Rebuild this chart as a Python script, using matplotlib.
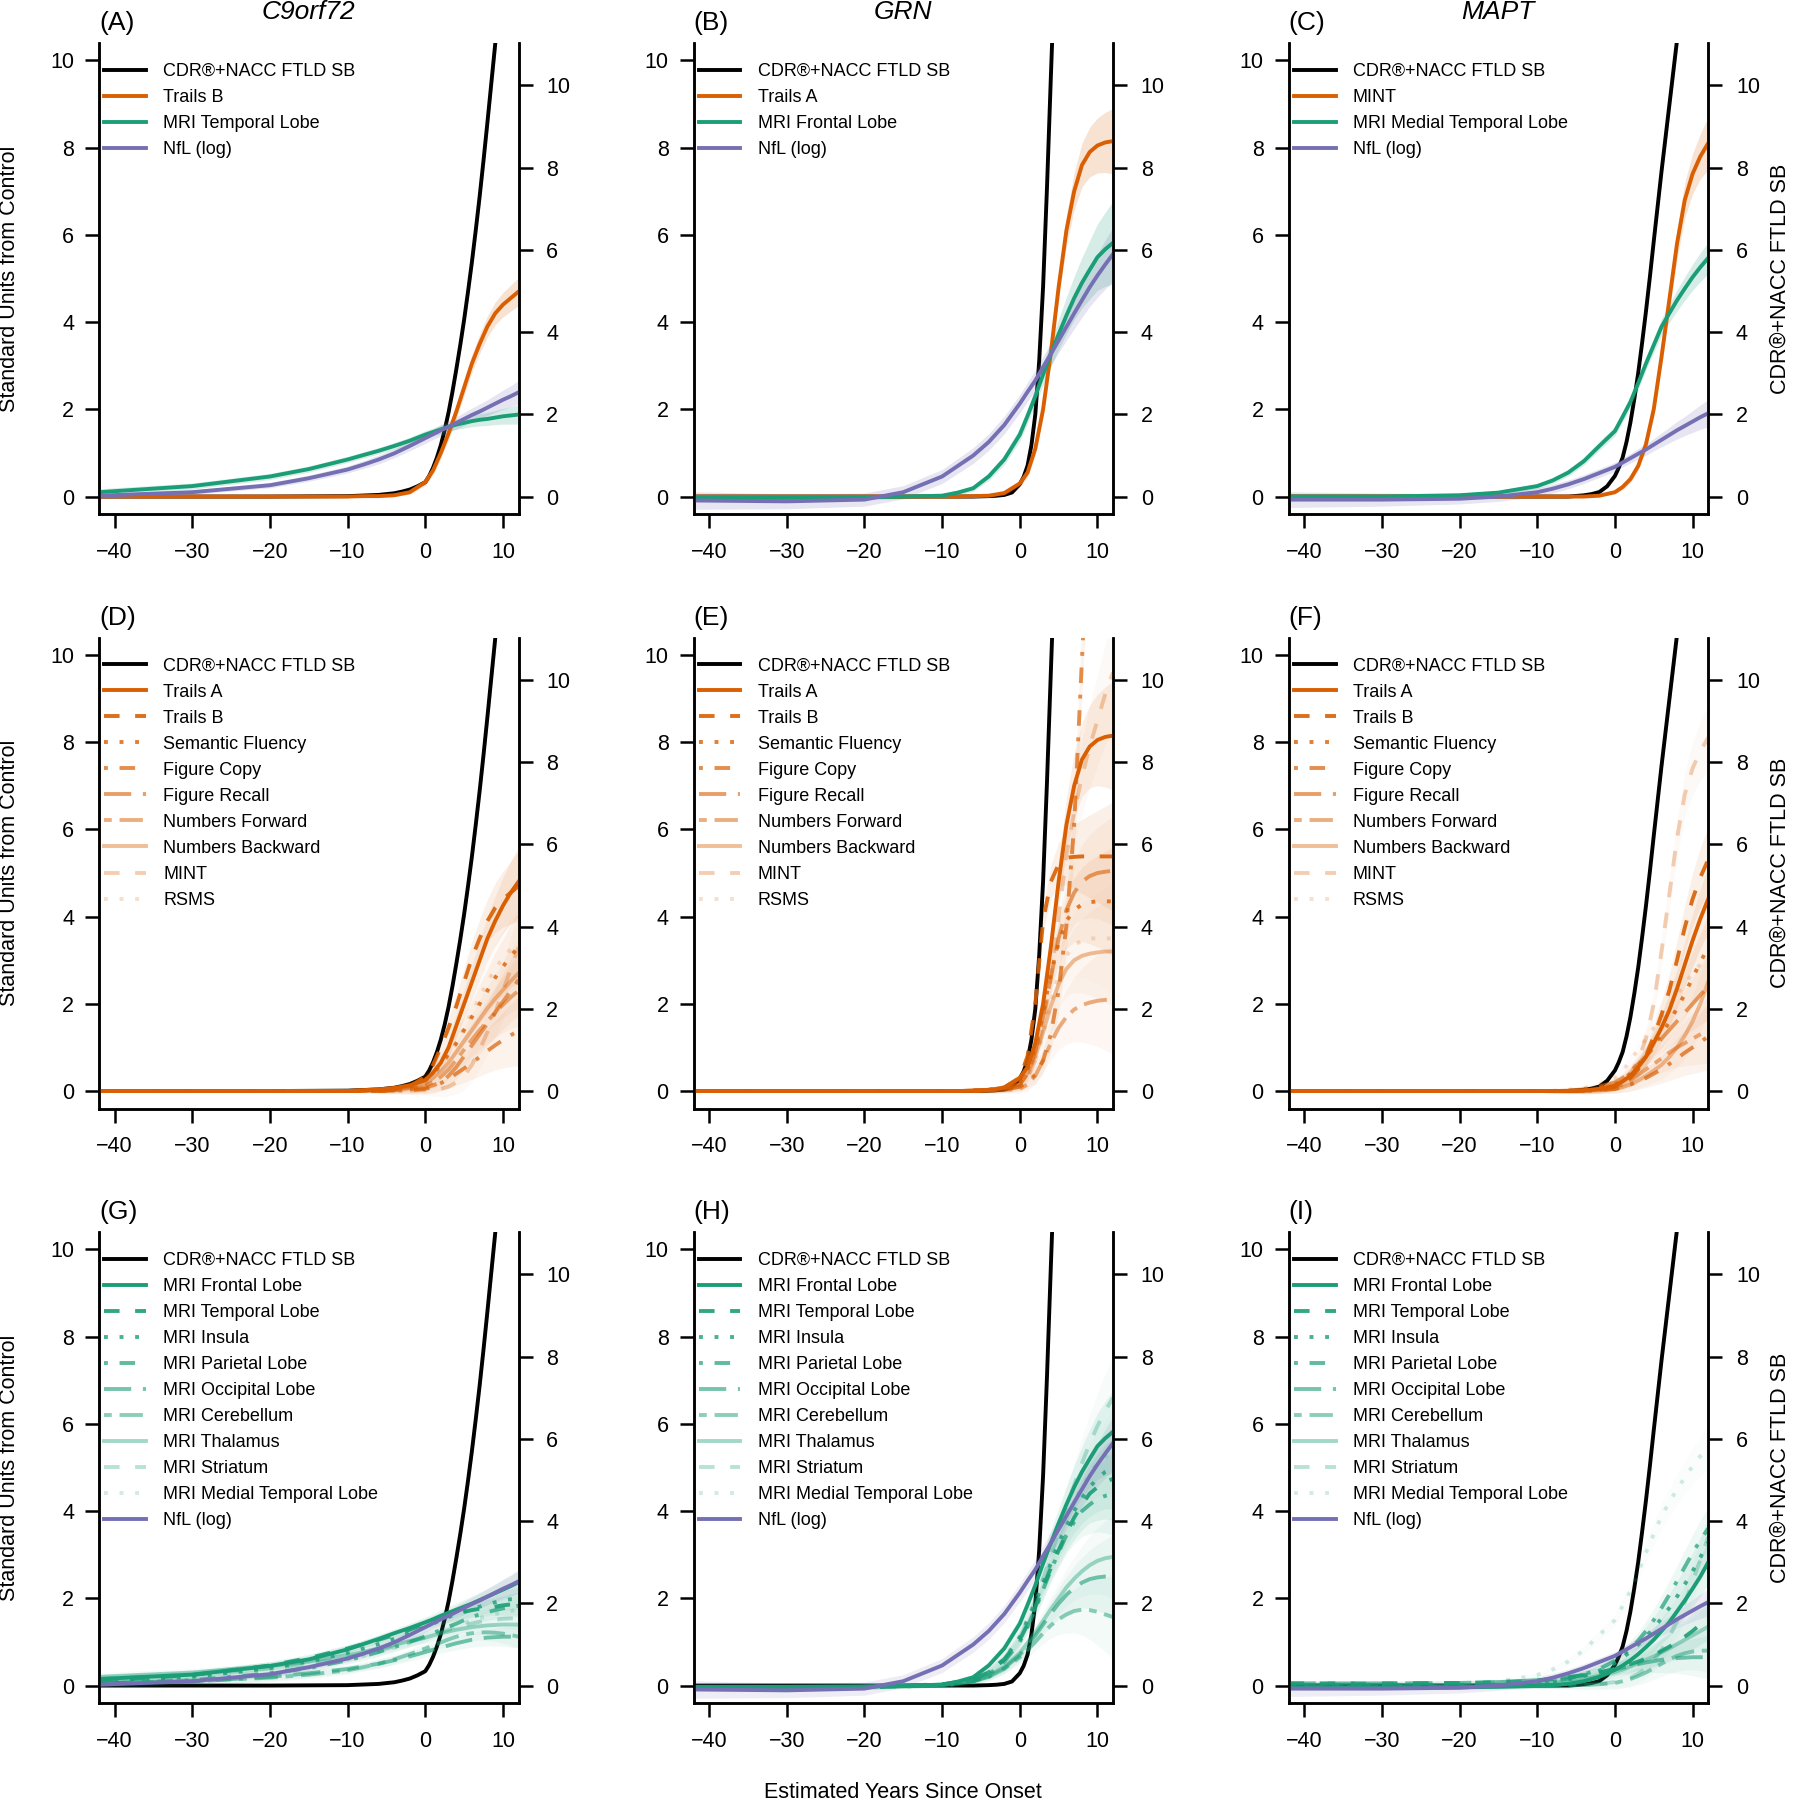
import matplotlib.pyplot as plt
import numpy as np

plt.rcParams['font.family'] = ['Liberation Sans', 'DejaVu Sans']

nan = float('nan')
years = [-42, -30, -20, -15, -10, -8, -6, -4, -2, 0, 1, 2, 3, 4, 5, 6, 7, 8, 9, 10, 11, 12]
cdr_years = [-42, -20, -10, -6, -4, -3, -2, -1, 0, 0.5, 1, 1.5, 2, 2.5, 3, 3.5, 4, 4.5, 5, 5.5,
             6, 6.5, 7, 7.5, 8, 8.5, 9, 9.5, 10, 11, 12]

# CDR+NACC FTLD SB, right axis units
cdr_c9 = [0, 0, 0.01, 0.04, 0.08, 0.12, 0.17, 0.25, 0.35, 0.5, 0.7, 0.95, 1.25, 1.62, 2.05, 2.55,
          3.1, 3.68, 4.3, 4.98, 5.7, 6.48, 7.3, 8.18, 9.1, 10.05, 11.0, 11.95, 12.9, nan, nan]
cdr_grn = [0, 0, 0, 0, 0.01, 0.02, 0.04, 0.1, 0.3, 0.48, 0.75, 1.25, 2.0, 3.3, 5.1, 7.5,
           10.2, 12.8, nan, nan, nan, nan, nan, nan, nan, nan, nan, nan, nan, nan, nan]
cdr_mapt = [0, 0, 0, 0, 0.03, 0.06, 0.11, 0.25, 0.5, 0.7, 0.95, 1.33, 1.8, 2.37, 3.0, 3.73,
            4.5, 5.33, 6.2, 7.05, 7.9, 8.7, 9.5, 10.3, 11.1, 11.9, nan, nan, nan, nan, nan]
ci_cdr = [0, 0, 0.01, 0.01, 0.02, 0.02, 0.03, 0.04, 0.05, 0.06, 0.07, 0.08, 0.09, 0.1, 0.12, 0.13,
          0.15, 0.17, 0.18, 0.2, 0.21, 0.23, 0.25, 0.27, 0.29, 0.31, 0.33, 0.35, 0.37, 0.4, 0.4]

# NfL (log)
nfl_c9 = [0.02, 0.1, 0.26, 0.42, 0.62, 0.73, 0.85, 0.99, 1.16, 1.34, 1.43, 1.52, 1.6, 1.69, 1.78, 1.87, 1.95, 2.04, 2.13, 2.22, 2.3, 2.39]
ci_nfl_c9 = [0.05, 0.05, 0.06, 0.07, 0.08, 0.09, 0.1, 0.1, 0.11, 0.12, 0.12, 0.13, 0.13, 0.14, 0.15, 0.16, 0.17, 0.18, 0.2, 0.22, 0.24, 0.27]
nfl_grn = [-0.09, -0.11, -0.07, 0.1, 0.46, 0.7, 0.94, 1.25, 1.64, 2.13, 2.4, 2.66, 2.97, 3.27, 3.58, 3.89, 4.2, 4.5, 4.8, 5.07, 5.32, 5.56]
ci_nfl_grn = [0.2, 0.17, 0.15, 0.15, 0.16, 0.17, 0.18, 0.19, 0.2, 0.21, 0.22, 0.23, 0.24, 0.26, 0.28, 0.31, 0.35, 0.39, 0.44, 0.5, 0.56, 0.62]
nfl_mapt = [-0.07, -0.07, -0.05, 0.0, 0.1, 0.18, 0.28, 0.4, 0.54, 0.68, 0.78, 0.88, 0.98, 1.08, 1.19, 1.3, 1.41, 1.52, 1.62, 1.72, 1.82, 1.91]
ci_nfl_mapt = [0.18, 0.15, 0.12, 0.11, 0.1, 0.1, 0.1, 0.1, 0.1, 0.1, 0.1, 0.11, 0.12, 0.13, 0.14, 0.16, 0.18, 0.2, 0.22, 0.25, 0.28, 0.31]

# cognitive, C9orf72
trailsa_c9 = [0, 0, 0, 0, 0, 0.02, 0.04, 0.07, 0.13, 0.25, 0.42, 0.65, 1.0, 1.5, 2.0, 2.5, 3.0, 3.5, 3.9, 4.25, 4.55, 4.8]
trailsb_c9 = [0, 0, 0, 0, 0, 0.01, 0.01, 0.03, 0.1, 0.33, 0.6, 1.0, 1.45, 1.95, 2.5, 3.05, 3.5, 3.9, 4.2, 4.4, 4.55, 4.7]
ci_trailsb_c9 = [0, 0, 0, 0, 0.01, 0.01, 0.02, 0.03, 0.05, 0.08, 0.1, 0.12, 0.14, 0.16, 0.18, 0.2, 0.22, 0.24, 0.26, 0.28, 0.3, 0.32]
semflu_c9 = [0, 0, 0, 0, 0, 0.01, 0.02, 0.05, 0.12, 0.25, 0.4, 0.6, 0.85, 1.1, 1.4, 1.7, 2.0, 2.3, 2.6, 2.85, 3.1, 3.3]
figcopy_c9 = [0, 0, 0, 0, 0, 0, 0, 0.01, 0.02, 0.05, 0.1, 0.18, 0.28, 0.4, 0.52, 0.65, 0.78, 0.92, 1.05, 1.17, 1.28, 1.38]
figrecall_c9 = [0, 0, 0, 0, 0, 0, 0.01, 0.02, 0.04, 0.08, 0.13, 0.2, 0.35, 0.55, 0.8, 1.05, 1.3, 1.55, 1.8, 2.05, 2.3, 2.55]
numfwd_c9 = [0, 0, 0, 0, 0, 0.01, 0.02, 0.04, 0.07, 0.12, 0.2, 0.33, 0.5, 0.72, 0.95, 1.18, 1.4, 1.6, 1.8, 1.98, 2.15, 2.3]
numbwd_c9 = [0, 0, 0, 0, 0, 0.01, 0.02, 0.05, 0.1, 0.18, 0.3, 0.45, 0.65, 0.9, 1.15, 1.4, 1.65, 1.9, 2.12, 2.32, 2.52, 2.7]
mint_c9 = [0, 0, 0, 0, 0, 0, 0, 0, 0.01, 0.02, 0.03, 0.05, 0.1, 0.2, 0.35, 0.6, 0.95, 1.35, 1.8, 2.3, 2.8, 3.3]
rsms_c9 = [0, 0, 0, 0, 0, 0.01, 0.02, 0.05, 0.1, 0.2, 0.35, 0.55, 0.8, 1.1, 1.45, 1.8, 2.15, 2.5, 2.8, 3.05, 3.25, 3.4]
ci_cog_c9 = [0.02, 0.02, 0.02, 0.02, 0.03, 0.04, 0.05, 0.07, 0.09, 0.12, 0.15, 0.18, 0.22, 0.27, 0.32, 0.38, 0.44, 0.5, 0.57, 0.64, 0.72, 0.8]

# cognitive, GRN
trailsa_grn = [0, 0, 0, 0, 0, 0, 0.01, 0.02, 0.08, 0.3, 0.55, 1.1, 2.0, 3.3, 4.8, 6.1, 7.0, 7.6, 7.9, 8.05, 8.12, 8.15]
ci_trailsa_grn = [0, 0, 0, 0, 0, 0.01, 0.02, 0.03, 0.05, 0.08, 0.1, 0.13, 0.17, 0.22, 0.28, 0.35, 0.42, 0.5, 0.57, 0.63, 0.69, 0.75]
trailsb_grn = [0, 0, 0, 0, 0, 0, 0.01, 0.02, 0.08, 0.3, 0.8, 2.0, 3.9, 4.8, 5.2, 5.35, 5.37, 5.38, 5.38, 5.38, 5.38, 5.38]
semflu_grn = [0, 0, 0, 0, 0, 0, 0.01, 0.03, 0.08, 0.2, 0.5, 1.0, 1.8, 2.7, 3.4, 3.9, 4.15, 4.28, 4.33, 4.35, 4.35, 4.35]
figcopy_grn = [0, 0, 0, 0, 0, 0, 0, 0.01, 0.03, 0.1, 0.2, 0.38, 0.7, 1.3, 2.3, 3.8, 6.1, 9.9, 13.5, nan, nan, nan]
figrecall_grn = [0, 0, 0, 0, 0, 0, 0.01, 0.03, 0.07, 0.15, 0.4, 0.9, 1.7, 2.6, 3.5, 4.15, 4.55, 4.8, 4.93, 5.0, 5.03, 5.05]
numfwd_grn = [0, 0, 0, 0, 0, 0, 0, 0.01, 0.02, 0.05, 0.15, 0.35, 0.7, 1.1, 1.45, 1.7, 1.87, 1.97, 2.03, 2.07, 2.09, 2.1]
numbwd_grn = [0, 0, 0, 0, 0, 0, 0.01, 0.03, 0.07, 0.15, 0.4, 0.8, 1.35, 1.95, 2.45, 2.8, 3.0, 3.1, 3.15, 3.18, 3.2, 3.2]
mint_grn = [0, 0, 0, 0, 0, 0, 0.01, 0.02, 0.04, 0.1, 0.3, 0.7, 1.5, 2.6, 4.0, 5.4, 6.4, 7.2, 7.9, 8.5, 9.1, 9.6]
rsms_grn = [0, 0, 0, 0, 0, 0, 0.01, 0.03, 0.07, 0.12, 0.35, 0.7, 1.3, 2.0, 2.7, 3.1, 3.35, 3.45, 3.5, 3.5, 3.5, 3.5]
ci_cog_grn = [0.02, 0.02, 0.02, 0.02, 0.02, 0.03, 0.04, 0.05, 0.07, 0.1, 0.14, 0.2, 0.28, 0.38, 0.5, 0.62, 0.74, 0.85, 0.95, 1.05, 1.15, 1.25]

# cognitive, MAPT
trailsa_mapt = [0, 0, 0, 0, 0, 0, 0, 0.01, 0.05, 0.12, 0.22, 0.35, 0.55, 0.78, 1.1, 1.45, 1.85, 2.35, 2.9, 3.45, 3.95, 4.4]
trailsb_mapt = [0, 0, 0, 0, 0, 0, 0, 0.01, 0.04, 0.1, 0.18, 0.3, 0.5, 0.8, 1.25, 1.75, 2.3, 3.0, 3.75, 4.4, 4.9, 5.3]
semflu_mapt = [0, 0, 0, 0, 0, 0, 0.01, 0.03, 0.07, 0.15, 0.25, 0.4, 0.58, 0.8, 1.05, 1.3, 1.58, 1.9, 2.22, 2.6, 2.95, 3.3]
figcopy_mapt = [0, 0, 0, 0, 0, 0, 0, 0, 0.02, 0.05, 0.09, 0.15, 0.22, 0.3, 0.4, 0.5, 0.62, 0.75, 0.88, 1.0, 1.12, 1.25]
figrecall_mapt = [0, 0, 0, 0, 0, 0, 0.01, 0.04, 0.1, 0.2, 0.3, 0.45, 0.62, 0.8, 1.0, 1.2, 1.4, 1.6, 1.8, 2.0, 2.2, 2.4]
numfwd_mapt = [0, 0, 0, 0, 0, 0, 0, 0.01, 0.04, 0.1, 0.15, 0.25, 0.37, 0.5, 0.62, 0.75, 0.88, 1.0, 1.1, 1.2, 1.3, 1.4]
numbwd_mapt = [0, 0, 0, 0, 0, 0, 0, 0.01, 0.02, 0.05, 0.09, 0.15, 0.24, 0.35, 0.47, 0.6, 0.78, 1.0, 1.27, 1.6, 2.0, 2.5]
mint_mapt = [0, 0, 0, 0, 0, 0, 0, 0.0, 0.02, 0.1, 0.22, 0.4, 0.7, 1.2, 2.0, 3.2, 4.5, 5.8, 6.8, 7.4, 7.8, 8.1]
ci_mint_mapt = [0, 0, 0, 0, 0, 0, 0, 0.01, 0.02, 0.04, 0.06, 0.08, 0.1, 0.13, 0.17, 0.22, 0.28, 0.34, 0.4, 0.46, 0.52, 0.6]
rsms_mapt = [0, 0, 0, 0, 0, 0.01, 0.03, 0.07, 0.15, 0.3, 0.45, 0.7, 0.95, 1.2, 1.45, 1.7, 1.95, 2.2, 2.45, 2.7, 2.9, 3.1]
ci_cog_mapt = [0.02, 0.02, 0.02, 0.02, 0.03, 0.04, 0.05, 0.06, 0.08, 0.1, 0.12, 0.15, 0.18, 0.22, 0.27, 0.32, 0.38, 0.45, 0.52, 0.6, 0.68, 0.76]

# MRI, C9orf72
frontal_c9 = [0.15, 0.25, 0.45, 0.6, 0.83, 0.95, 1.07, 1.2, 1.32, 1.45, 1.52, 1.6, 1.67, 1.74, 1.81, 1.88, 1.96, 2.04, 2.12, 2.2, 2.28, 2.37]
temporal_c9 = [0.1, 0.24, 0.46, 0.63, 0.85, 0.95, 1.05, 1.16, 1.28, 1.42, 1.48, 1.54, 1.6, 1.65, 1.69, 1.73, 1.76, 1.78, 1.81, 1.84, 1.86, 1.88]
ci_temporal_c9 = [0.08, 0.07, 0.07, 0.07, 0.07, 0.07, 0.07, 0.08, 0.08, 0.09, 0.09, 0.1, 0.1, 0.11, 0.12, 0.13, 0.14, 0.15, 0.16, 0.18, 0.2, 0.22]
insula_c9 = [0.1, 0.2, 0.4, 0.55, 0.75, 0.85, 0.95, 1.07, 1.2, 1.35, 1.42, 1.5, 1.57, 1.64, 1.7, 1.76, 1.81, 1.86, 1.91, 1.95, 1.98, 2.0]
parietal_c9 = [0.05, 0.12, 0.28, 0.4, 0.58, 0.67, 0.77, 0.88, 1.0, 1.13, 1.2, 1.28, 1.35, 1.42, 1.5, 1.57, 1.63, 1.68, 1.73, 1.77, 1.8, 1.83]
occipital_c9 = [0.05, 0.1, 0.2, 0.28, 0.38, 0.44, 0.5, 0.58, 0.67, 0.77, 0.82, 0.87, 0.92, 0.97, 1.01, 1.05, 1.08, 1.1, 1.11, 1.12, 1.12, 1.12]
cerebellum_c9 = [0.05, 0.1, 0.18, 0.25, 0.35, 0.42, 0.5, 0.6, 0.72, 0.85, 0.92, 0.99, 1.06, 1.12, 1.17, 1.2, 1.22, 1.22, 1.21, 1.19, 1.16, 1.12]
thalamus_c9 = [0.2, 0.3, 0.45, 0.55, 0.7, 0.77, 0.85, 0.93, 1.02, 1.1, 1.15, 1.2, 1.24, 1.28, 1.31, 1.34, 1.36, 1.38, 1.39, 1.4, 1.4, 1.4]
striatum_c9 = [0.15, 0.25, 0.4, 0.5, 0.65, 0.72, 0.8, 0.9, 1.0, 1.1, 1.16, 1.22, 1.28, 1.33, 1.38, 1.42, 1.46, 1.49, 1.51, 1.53, 1.54, 1.55]
mtl_c9 = [0.1, 0.2, 0.35, 0.45, 0.6, 0.68, 0.77, 0.87, 0.98, 1.1, 1.17, 1.24, 1.31, 1.38, 1.44, 1.5, 1.55, 1.6, 1.64, 1.68, 1.71, 1.74]
ci_mri_c9 = [0.1, 0.09, 0.09, 0.09, 0.09, 0.09, 0.1, 0.1, 0.11, 0.12, 0.12, 0.13, 0.14, 0.15, 0.16, 0.17, 0.18, 0.19, 0.2, 0.22, 0.24, 0.26]

# MRI, GRN
frontal_grn = [-0.03, -0.03, -0.02, 0.0, 0.02, 0.09, 0.19, 0.46, 0.85, 1.42, 1.85, 2.3, 2.8, 3.27, 3.72, 4.15, 4.55, 4.9, 5.2, 5.49, 5.67, 5.82]
ci_frontal_grn = [0.06, 0.06, 0.05, 0.05, 0.05, 0.06, 0.07, 0.09, 0.12, 0.15, 0.17, 0.2, 0.24, 0.29, 0.35, 0.42, 0.5, 0.58, 0.67, 0.76, 0.85, 0.95]
temporal_grn = [-0.05, -0.05, -0.03, 0.0, 0.03, 0.08, 0.15, 0.3, 0.6, 1.05, 1.4, 1.8, 2.25, 2.7, 3.1, 3.5, 3.85, 4.15, 4.4, 4.55, 4.67, 4.74]
insula_grn = [-0.05, -0.05, -0.03, -0.01, 0.02, 0.06, 0.14, 0.3, 0.6, 1.1, 1.5, 1.9, 2.35, 2.8, 3.25, 3.65, 4.0, 4.3, 4.55, 4.75, 4.9, 5.0]
parietal_grn = [-0.05, -0.05, -0.04, -0.02, 0.0, 0.04, 0.1, 0.25, 0.55, 1.0, 1.35, 1.75, 2.2, 2.65, 3.05, 3.45, 3.75, 4.0, 4.15, 4.28, 4.35, 4.4]
occipital_grn = [-0.05, -0.05, -0.03, -0.01, 0.02, 0.05, 0.1, 0.2, 0.4, 0.7, 0.92, 1.15, 1.4, 1.65, 1.88, 2.08, 2.24, 2.36, 2.44, 2.48, 2.5, 2.5]
cerebellum_grn = [-0.05, -0.05, -0.03, -0.01, 0.02, 0.05, 0.1, 0.2, 0.38, 0.65, 0.82, 1.0, 1.2, 1.38, 1.52, 1.63, 1.71, 1.74, 1.73, 1.69, 1.63, 1.57]
thalamus_grn = [-0.05, -0.05, -0.03, -0.01, 0.02, 0.05, 0.1, 0.22, 0.42, 0.75, 0.98, 1.22, 1.48, 1.75, 2.0, 2.25, 2.45, 2.62, 2.76, 2.86, 2.92, 2.95]
striatum_grn = [-0.05, -0.05, -0.03, -0.01, 0.02, 0.06, 0.14, 0.3, 0.6, 1.1, 1.5, 1.95, 2.45, 3.0, 3.55, 4.1, 4.6, 5.1, 5.55, 5.95, 6.3, 6.6]
mtl_grn = [-0.05, -0.05, -0.03, -0.01, 0.02, 0.06, 0.14, 0.3, 0.62, 1.15, 1.55, 2.0, 2.45, 2.9, 3.35, 3.8, 4.2, 4.55, 4.85, 5.1, 5.25, 5.35]

# MRI, MAPT
frontal_mapt = [-0.05, -0.05, -0.04, -0.03, -0.01, 0.01, 0.04, 0.1, 0.2, 0.36, 0.46, 0.58, 0.72, 0.88, 1.05, 1.25, 1.45, 1.7, 1.95, 2.22, 2.5, 2.82]
temporal_mapt = [0.05, 0.05, 0.06, 0.08, 0.12, 0.15, 0.19, 0.24, 0.3, 0.38, 0.43, 0.49, 0.55, 0.62, 0.7, 0.79, 0.89, 1.0, 1.12, 1.25, 1.4, 1.55]
insula_mapt = [0.0, 0.0, 0.01, 0.02, 0.06, 0.09, 0.14, 0.22, 0.34, 0.52, 0.64, 0.78, 0.94, 1.12, 1.32, 1.54, 1.78, 2.04, 2.32, 2.62, 2.94, 3.28]
parietal_mapt = [-0.03, -0.03, -0.02, 0.0, 0.05, 0.1, 0.16, 0.25, 0.38, 0.57, 0.7, 0.85, 1.03, 1.25, 1.5, 1.78, 2.08, 2.4, 2.72, 3.04, 3.33, 3.6]
occipital_mapt = [0.05, 0.05, 0.06, 0.08, 0.12, 0.15, 0.19, 0.24, 0.3, 0.37, 0.41, 0.45, 0.49, 0.53, 0.56, 0.59, 0.61, 0.63, 0.64, 0.65, 0.65, 0.65]
cerebellum_mapt = [0.0, 0.0, 0.0, 0.0, 0.0, 0.0, 0.0, 0.01, 0.03, 0.06, 0.1, 0.15, 0.22, 0.3, 0.4, 0.5, 0.6, 0.68, 0.74, 0.78, 0.8, 0.8]
thalamus_mapt = [0.0, 0.0, 0.0, 0.01, 0.04, 0.06, 0.1, 0.15, 0.22, 0.31, 0.37, 0.44, 0.51, 0.59, 0.67, 0.76, 0.85, 0.95, 1.05, 1.15, 1.25, 1.35]
striatum_mapt = [0.0, 0.0, 0.0, 0.0, 0.0, 0.0, 0.01, 0.02, 0.04, 0.08, 0.12, 0.18, 0.27, 0.4, 0.58, 0.82, 1.12, 1.48, 1.9, 2.38, 2.88, 3.4]
mtl_mapt = [0, 0, 0.03, 0.09, 0.24, 0.37, 0.55, 0.81, 1.16, 1.5, 1.83, 2.17, 2.6, 3.05, 3.47, 3.89, 4.2, 4.5, 4.77, 5.03, 5.26, 5.47]
ci_mtl_mapt = [0.05, 0.05, 0.05, 0.05, 0.06, 0.07, 0.08, 0.09, 0.1, 0.11, 0.12, 0.13, 0.14, 0.15, 0.17, 0.19, 0.21, 0.24, 0.27, 0.3, 0.33, 0.36]
ci_mri_mapt = [0.05, 0.05, 0.05, 0.05, 0.06, 0.07, 0.08, 0.1, 0.12, 0.14, 0.16, 0.18, 0.2, 0.23, 0.26, 0.29, 0.32, 0.35, 0.38, 0.42, 0.46, 0.5]

genes = ['C9orf72', 'GRN', 'MAPT']
panel_tags = ['(A)', '(B)', '(C)', '(D)', '(E)', '(F)', '(G)', '(H)', '(I)']
cog_labels = ['Trails A', 'Trails B', 'Semantic Fluency', 'Figure Copy', 'Figure Recall',
              'Numbers Forward', 'Numbers Backward', 'MINT', 'RSMS']
mri_labels = ['MRI Frontal Lobe', 'MRI Temporal Lobe', 'MRI Insula', 'MRI Parietal Lobe',
              'MRI Occipital Lobe', 'MRI Cerebellum', 'MRI Thalamus', 'MRI Striatum',
              'MRI Medial Temporal Lobe']
cdr_label = 'CDR\u00ae+NACC FTLD SB'

ORANGE = '#D95F02'
GREEN = '#1B9E77'
PURPLE = '#7570B3'
# R lty 1..6
ltys = ['-', (0, (4, 4)), (0, (1, 3)), (0, (1, 3, 4, 3)), (0, (7, 3)), (0, (2, 2, 6, 2)),
        '-', (0, (4, 4)), (0, (1, 3))]
alphas = [1.0, 0.9, 0.8, 0.7, 0.6, 0.5, 0.4, 0.3, 0.2]

cdr_data = [cdr_c9, cdr_grn, cdr_mapt]
row1 = [
    [(trailsb_c9, ci_trailsb_c9, ORANGE, 'Trails B'), (temporal_c9, ci_temporal_c9, GREEN, 'MRI Temporal Lobe'), (nfl_c9, ci_nfl_c9, PURPLE, 'NfL (log)')],
    [(trailsa_grn, ci_trailsa_grn, ORANGE, 'Trails A'), (frontal_grn, ci_frontal_grn, GREEN, 'MRI Frontal Lobe'), (nfl_grn, ci_nfl_grn, PURPLE, 'NfL (log)')],
    [(mint_mapt, ci_mint_mapt, ORANGE, 'MINT'), (mtl_mapt, ci_mtl_mapt, GREEN, 'MRI Medial Temporal Lobe'), (nfl_mapt, ci_nfl_mapt, PURPLE, 'NfL (log)')],
]
row2 = [
    ([trailsa_c9, trailsb_c9, semflu_c9, figcopy_c9, figrecall_c9, numfwd_c9, numbwd_c9, mint_c9, rsms_c9], ci_cog_c9),
    ([trailsa_grn, trailsb_grn, semflu_grn, figcopy_grn, figrecall_grn, numfwd_grn, numbwd_grn, mint_grn, rsms_grn], ci_cog_grn),
    ([trailsa_mapt, trailsb_mapt, semflu_mapt, figcopy_mapt, figrecall_mapt, numfwd_mapt, numbwd_mapt, mint_mapt, rsms_mapt], ci_cog_mapt),
]
row3 = [
    ([frontal_c9, temporal_c9, insula_c9, parietal_c9, occipital_c9, cerebellum_c9, thalamus_c9, striatum_c9, mtl_c9], ci_mri_c9, nfl_c9, ci_nfl_c9),
    ([frontal_grn, temporal_grn, insula_grn, parietal_grn, occipital_grn, cerebellum_grn, thalamus_grn, striatum_grn, mtl_grn], ci_frontal_grn, nfl_grn, ci_nfl_grn),
    ([frontal_mapt, temporal_mapt, insula_mapt, parietal_mapt, occipital_mapt, cerebellum_mapt, thalamus_mapt, striatum_mapt, mtl_mapt], ci_mri_mapt, nfl_mapt, ci_nfl_mapt),
]

W, H = 1794, 1800
fig = plt.figure(figsize=(W / 100, H / 100), dpi=100)
col_left = [99, 693.5, 1288.6]
row_top = [43, 637.5, 1232]
aw, ah = 419.5, 471
LW = 2.8


def curve(ax, y, ci, color, alpha, ls, label, band=0.18):
    y = np.array(y, dtype=float)
    ci = np.array(ci, dtype=float)
    ax.fill_between(years, y - ci, y + ci, color=color, alpha=band * alpha, lw=0)
    line, = ax.plot(years, y, color=color, alpha=alpha, ls=ls, lw=LW, label=label)
    return line


for r in range(3):
    for c in range(3):
        ax = fig.add_axes([col_left[c] / W, 1 - (row_top[r] + ah) / H, aw / W, ah / H])
        ax2 = ax.twinx()
        ax.set_zorder(ax2.get_zorder() + 1)
        ax.patch.set_visible(False)

        cdr = np.array(cdr_data[c], dtype=float)
        ci = np.array(ci_cdr)
        ax2.fill_between(cdr_years, cdr - ci, cdr + ci, color='black', alpha=0.15, lw=0)
        cdr_line, = ax2.plot(cdr_years, cdr, color='black', lw=LW, label=cdr_label)

        handles = [cdr_line]
        if r == 0:
            for y, ci_y, col, lab in row1[c]:
                handles.append(curve(ax, y, ci_y, col, 1.0, '-', lab))
        elif r == 1:
            series, ci_y = row2[c]
            for k, y in enumerate(series):
                handles.append(curve(ax, y, ci_y, ORANGE, alphas[k], ltys[k], cog_labels[k], band=0.1))
        else:
            series, ci_y, nfl, ci_n = row3[c]
            for k, y in enumerate(series):
                handles.append(curve(ax, y, ci_y, GREEN, alphas[k], ltys[k], mri_labels[k], band=0.1))
            handles.append(curve(ax, nfl, ci_n, PURPLE, 1.0, '-', 'NfL (log)', band=0.12))

        ax.set_xlim(-42, 12)
        ax.set_ylim(-0.4, 10.4)
        ax2.set_ylim(-0.4 / 0.943, 10.4 / 0.943)
        ax.set_xticks([-40, -30, -20, -10, 0, 10])
        ax.set_yticks([0, 2, 4, 6, 8, 10])
        ax2.set_yticks([0, 2, 4, 6, 8, 10])
        for a in (ax, ax2):
            a.spines['top'].set_visible(False)
            for s in ('left', 'right', 'bottom'):
                a.spines[s].set_linewidth(1.8)
        ax.tick_params(axis='x', length=10, width=1.8, labelsize=15.5, pad=10)
        ax.tick_params(axis='y', length=10, width=1.8, labelsize=15.5, pad=8)
        ax2.tick_params(axis='y', length=10, width=1.8, labelsize=15.5, pad=10)

        ax.legend(handles=handles, loc='upper left', bbox_to_anchor=(0, 1 - 14.7 / ah),
                  borderaxespad=0, borderpad=0.3, frameon=False, fontsize=13.0,
                  handlelength=2.3, handletextpad=0.95, labelspacing=0.5)

        ax.text(0, 1 + 20 / ah, panel_tags[r * 3 + c], transform=ax.transAxes,
                ha='left', va='center', fontsize=19)
        if r == 0:
            ax.text(0.5, 1 + 31 / ah, genes[c], transform=ax.transAxes,
                    ha='center', va='center', fontsize=19, style='italic')

    yc = 1 - (row_top[r] + ah / 2) / H
    fig.text(9.6 / W, yc, 'Standard Units from Control', rotation=90,
             ha='center', va='center', fontsize=15.5)
    fig.text(1780 / W, yc, cdr_label, rotation=90, ha='center', va='center', fontsize=15.5)

fig.text(903 / W, 2 / H, 'Estimated Years Since Onset', ha='center', va='baseline', fontsize=15.5)

fig.savefig('out.png', dpi=100)
